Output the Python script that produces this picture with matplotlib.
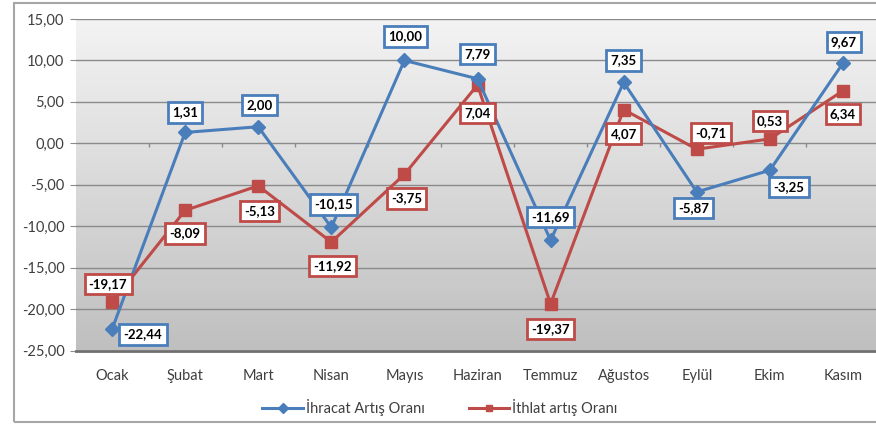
import matplotlib
matplotlib.use("Agg")
import matplotlib.pyplot as plt
import numpy as np
from matplotlib.patches import Rectangle

months = ["Ocak", "Şubat", "Mart", "Nisan", "Mayıs", "Haziran", "Temmuz",
          "Ağustos", "Eylül", "Ekim", "Kasım"]
ihracat = [-22.44, 1.31, 2.00, -10.15, 10.00, 7.79, -11.69, 7.35, -5.87, -3.25, 9.67]
ithalat = [-19.17, -8.09, -5.13, -11.92, -3.75, 7.04, -19.37, 4.07, -0.71, 0.53, 6.34]
yticks = [15, 10, 5, 0, -5, -10, -15, -20, -25]
series_names = ["İhracat Artış Oranı", "İthlat artış Oranı"]

# label offsets in pixels (dx, dy)
off_blue = [(31, -5), (0, 20), (1, 22), (2, 23), (1, 24), (0, 25), (0, 23),
            (0, 22), (-3, -16), (19, -17), (1, 21)]
off_red = [(-4, 18), (0, -23), (1, -25), (1, -24), (2, -24), (0, -28), (0, -25),
           (0, -24), (14, 16), (0, 18), (0, -23)]

BLUE = "#4a7ebb"
RED = "#be4b48"
TXT = "#3f3f3f"
FONT = "Lato"

W, H = 876, 426
fig = plt.figure(figsize=(W / 100, H / 100), dpi=100)
fig.patch.set_facecolor("white")

# outer frame
fig.add_artist(Rectangle((14 / W, 1 - 422 / H), 870 / W, (422 - 3) / H,
                         transform=fig.transFigure, fill=False,
                         edgecolor="#a6a6a6", lw=1.5))

left, right = 75.5, 879.5
top, bottom = 19, 350.5
ax = fig.add_axes([left / W, 1 - bottom / H, (right - left) / W, (bottom - top) / H])

n = len(months)
x = np.arange(n)
ax.set_xlim(-0.5, n - 0.5)
ax.set_ylim(-25, 15)

# gradient background
grad = np.linspace(0, 1, 256).reshape(-1, 1)
c_top = np.array([0.955, 0.955, 0.955])
c_bot = np.array([0.75, 0.75, 0.75])
img = c_top[None, None, :] * (1 - grad[:, :, None]) + c_bot[None, None, :] * grad[:, :, None]
ax.imshow(img, extent=[-0.5, n - 0.5, -25, 15], aspect="auto", zorder=0, origin="upper")

ax.set_yticks(yticks)
ax.set_yticklabels([f"{v:.2f}".replace(".", ",") for v in yticks],
                   fontsize=10.5, color=TXT, family=FONT)
ax.set_xticks(x)
ax.set_xticklabels(months, fontsize=10.5, color=TXT, family=FONT)
ax.tick_params(axis="x", length=0, pad=13)
ax.tick_params(axis="y", length=4, color="#8c8c8c", pad=4)
ax.grid(axis="y", color="#8a8a8a", lw=1, zorder=1)
for s in ["top", "right", "left"]:
    ax.spines[s].set_visible(False)
ax.spines["bottom"].set_color("#6f6f6f")
ax.spines["bottom"].set_linewidth(2)

# category boundary ticks on the zero line
ax.vlines(np.arange(n - 1) + 0.5, -0.5, 0, color="#8a8a8a", lw=1, zorder=1)

ax.plot(x, ihracat, color=BLUE, lw=2.2, marker="D", ms=7, mec=BLUE, mfc=BLUE,
        zorder=4, label=series_names[0])
ax.plot(x, ithalat, color=RED, lw=2.2, marker="s", ms=8, mec=RED, mfc=RED,
        zorder=3, label=series_names[1])

def fmt(v):
    return f"{v:.2f}".replace(".", ",")

for vals, offs, col in [(ithalat, off_red, RED), (ihracat, off_blue, BLUE)]:
    for i, (v, o) in enumerate(zip(vals, offs)):
        ax.annotate(fmt(v), (i, v), xytext=o, textcoords="offset pixels",
                    ha="center", va="center", fontsize=9.5, fontweight="bold",
                    family=FONT, color="black", zorder=6,
                    bbox=dict(boxstyle="square,pad=0.32", fc="white", ec=col, lw=2))

leg = fig.legend(loc="center", bbox_to_anchor=(440 / W, 1 - 408 / H), ncol=2,
                 frameon=False, prop=dict(family=FONT, size=10.5),
                 handlelength=2.8, columnspacing=3.0, handletextpad=0.2)
for t in leg.get_texts():
    t.set_color(TXT)
for h in leg.legend_handles:
    h.set_markersize(5)

fig.savefig("out.png", dpi=100)
